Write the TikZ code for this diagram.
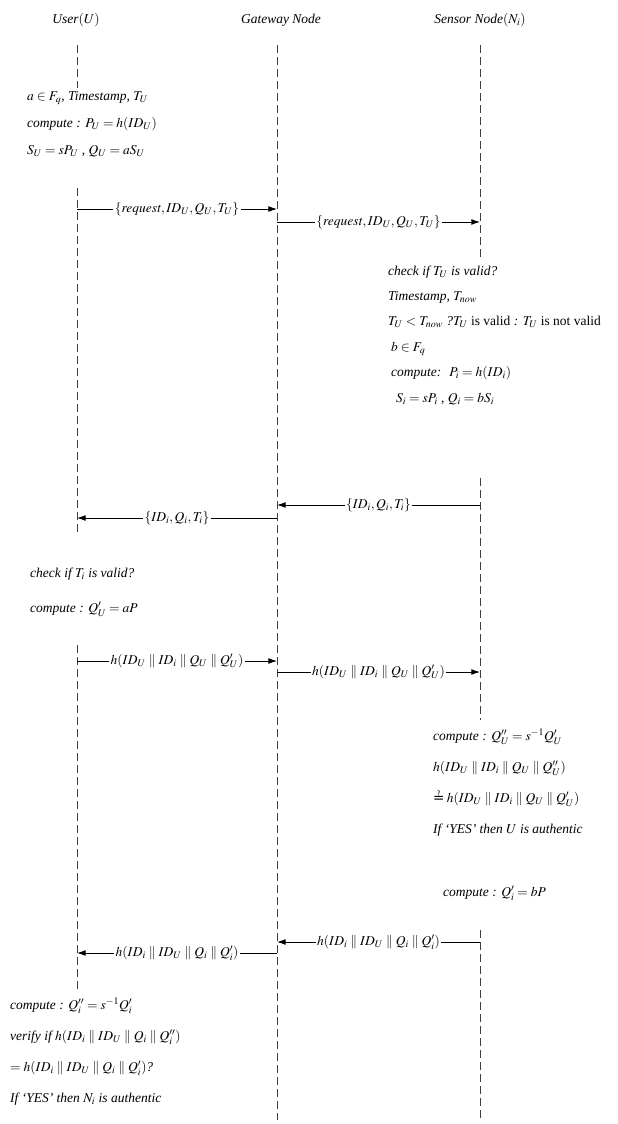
\documentclass[tikz,border=0pt]{standalone}
\usepackage{mathptmx}
\usepackage{fontspec}
\setmainfont{Liberation Serif}
\newfontfamily\symfont{DejaVu Sans}
\usetikzlibrary{arrows.meta, positioning}

\begin{document}
\begin{tikzpicture}[x=1pt, y=-1pt, font=\itshape\fontsize{13.5}{16}\selectfont, >=Latex]
  % Styles
  \tikzset{
    head/.style={inner sep=1pt},
    lifeline/.style={thin, black!75, dash pattern=on 8pt off 4pt},
    note/.style={fill=white, inner sep=2pt, anchor=west, align=left, font=\itshape\fontsize{13.5}{#1}\selectfont},
    msg/.style={-{Latex[length=3mm,width=2mm]}, thick},
    lbl/.style={fill=white, inner sep=1.5pt}
  }
  \useasboundingbox (0,0) rectangle (618,1124);

  % Headers
  \node[head] (user) at (76,20) {User$(U)$};
  \node[head] (gw) at (281,20) {Gateway Node};
  \node[head] (sensor) at (480,20) {Sensor Node$(N_i)$};

  % Lifelines
  \coordinate (u0) at (77,45);  \coordinate (u1) at (77,88);
  \coordinate (u2) at (77,188); \coordinate (u3) at (77,535);
  \coordinate (u4) at (77,645); \coordinate (u5) at (77,990);
  \coordinate (g0) at (277,45); \coordinate (g1) at (277,1120);
  \coordinate (s0) at (480,45);  \coordinate (s1) at (480,258);
  \coordinate (s2) at (480,478); \coordinate (s3) at (480,720);
  \coordinate (s4) at (480,930); \coordinate (s5) at (480,1120);
  \draw[lifeline] (u0) -- (u1) (u2) -- (u3) (u4) -- (u5);
  \draw[lifeline] (g0) -- (g1);
  \draw[lifeline] (s0) -- (s1) (s2) -- (s3) (s4) -- (s5);

  % Computations
  \node[note=27] (ucalc1) at (25,124) {$a\in F_q$, Timestamp, $T_U$\\
    compute : $P_U = h(ID_U)$\\
    $S_U = sP_U$ , $Q_U = aS_U$};
  \node[note=25.4] (scalc1) at (386,335) {check if $T_U$ is valid?\\
    Timestamp, $T_{now}$\\
    $T_U < T_{now}$ ?$T_U$ \textup{is valid} : $T_U$ \textup{is not valid}\\
    \hspace*{3pt}$b\in F_q$\\
    \hspace*{3pt}compute: \ $P_i = h(ID_i)$\\
    \hspace*{8pt}$S_i = sP_i$ , $Q_i = bS_i$};
  \node[note=35] (ucalc2) at (28,592) {check if $T_i$ is valid?\\
    compute : $Q'_U = aP$};
  \node[note=31] (scalc2) at (431,783) {compute : $Q''_U = s^{-1}Q'_U$\\
    $h(ID_U \parallel ID_i \parallel Q_U \parallel Q''_U)$\\
    {\upshape\symfont ≟}\,$h(ID_U \parallel ID_i \parallel Q_U \parallel Q'_U)$\\
    If `YES' then $U$ is authentic};
  \node[note=16] (scalc3) at (441,893) {compute : $Q'_i = bP$};
  \node[note=31] (ucalc3) at (8,1052) {compute : $Q''_i = s^{-1}Q'_i$\\
    verify if $h(ID_i \parallel ID_U \parallel Q_i \parallel Q''_i)$\\
    $= h(ID_i \parallel ID_U \parallel Q_i \parallel Q'_i)$?\\
    If `YES' then $N_i$ is authentic};

  % Messages
  \coordinate (m1a) at (77,209);  \coordinate (m1b) at (277,209);
  \coordinate (m2a) at (277,222); \coordinate (m2b) at (480,222);
  \coordinate (m3a) at (480,505); \coordinate (m3b) at (277,505);
  \coordinate (m4a) at (277,518); \coordinate (m4b) at (77,518);
  \coordinate (m5a) at (77,661);  \coordinate (m5b) at (277,661);
  \coordinate (m6a) at (277,672); \coordinate (m6b) at (480,672);
  \coordinate (m7a) at (480,942); \coordinate (m7b) at (277,942);
  \coordinate (m8a) at (277,953); \coordinate (m8b) at (77,953);

  \draw[msg] (m1a) -- (m1b) node[midway, lbl] {$\{\mathit{request}, ID_U, Q_U, T_U\}$};
  \draw[msg] (m2a) -- (m2b) node[midway, lbl] {$\{\mathit{request}, ID_U, Q_U, T_U\}$};
  \draw[msg] (m3a) -- (m3b) node[midway, lbl] {$\{ID_i, Q_i, T_i\}$};
  \draw[msg] (m4a) -- (m4b) node[midway, lbl] {$\{ID_i, Q_i, T_i\}$};
  \draw[msg] (m5a) -- (m5b) node[midway, lbl] {$h(ID_U \parallel ID_i \parallel Q_U \parallel Q'_U)$};
  \draw[msg] (m6a) -- (m6b) node[midway, lbl] {$h(ID_U \parallel ID_i \parallel Q_U \parallel Q'_U)$};
  \draw[msg] (m7a) -- (m7b) node[midway, lbl] {$h(ID_i \parallel ID_U \parallel Q_i \parallel Q'_i)$};
  \draw[msg] (m8a) -- (m8b) node[midway, lbl] {$h(ID_i \parallel ID_U \parallel Q_i \parallel Q'_i)$};

\end{tikzpicture}
\end{document}
